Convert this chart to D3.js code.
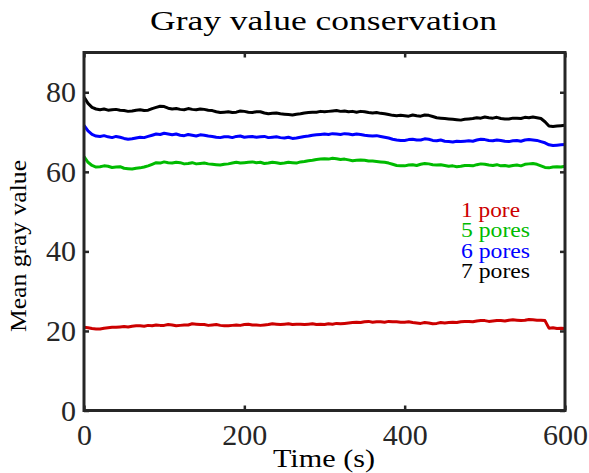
<!DOCTYPE html>
<html>
<head>
<meta charset="utf-8">
<script src="https://cdn.jsdelivr.net/npm/d3@7"></script>
<style>
  body { margin: 0; background: #fff; }
  svg { display: block; }
</style>
</head>
<body>
<svg id="chart" width="589" height="473"></svg>
<script>
// sampling grid (s): every 5 s from 0 to 600, shared by every series
const times = d3.range(0, 601, 5)

// mean gray value, one row per 100 s
const pores1 = [
  20.9, 20.8, 20.6, 20.5, 20.5, 20.7, 20.8, 20.9, 20.9, 21.0, 21.1, 21.0, 21.2, 21.3, 21.3, 21.2, 21.4, 21.3, 21.5, 21.4,
  21.4, 21.6, 21.5, 21.3, 21.4, 21.5, 21.5, 21.8, 21.7, 21.6, 21.6, 21.4, 21.5, 21.6, 21.4, 21.3, 21.3, 21.4, 21.5, 21.4,
  21.6, 21.7, 21.5, 21.5, 21.4, 21.5, 21.6, 21.8, 21.7, 21.6, 21.7, 21.8, 21.6, 21.7, 21.7, 21.6, 21.7, 21.8, 21.6, 21.7,
  21.6, 21.8, 21.7, 21.9, 21.8, 21.9, 22.0, 22.1, 22.2, 22.1, 22.3, 22.4, 22.2, 22.3, 22.3, 22.2, 22.4, 22.3, 22.3, 22.2,
  22.2, 22.3, 22.1, 22.0, 21.9, 22.1, 22.0, 21.8, 21.9, 22.1, 22.0, 22.1, 22.2, 22.1, 22.3, 22.4, 22.4, 22.3, 22.5, 22.6,
  22.6, 22.4, 22.5, 22.6, 22.6, 22.5, 22.7, 22.8, 22.7, 22.6, 22.7, 22.9, 22.8, 22.7, 22.7, 22.6, 20.7, 20.8, 20.6, 20.7,
  20.6]

const pores5 = [
  63.8, 62.4, 61.6, 61.2, 61.3, 61.5, 61.4, 61.1, 61.2, 61.3, 60.9, 60.8, 60.7, 60.9, 61.0, 61.2, 61.5, 61.9, 62.3, 62.2,
  62.5, 62.3, 62.2, 62.4, 62.3, 62.0, 62.1, 62.3, 62.0, 62.1, 62.2, 62.0, 61.9, 61.8, 61.7, 61.9, 62.0, 62.2, 62.4, 62.2,
  62.3, 62.4, 62.5, 62.3, 62.4, 62.1, 62.2, 62.4, 62.3, 62.1, 62.2, 62.4, 62.3, 62.2, 62.5, 62.6, 62.8, 62.9, 63.1, 63.2,
  63.3, 63.2, 63.4, 63.3, 63.1, 63.2, 63.0, 62.8, 62.9, 63.0, 62.9, 62.7, 62.7, 62.6, 62.5, 62.4, 62.2, 61.9, 61.6, 61.5,
  61.5, 61.7, 61.8, 61.6, 61.9, 62.1, 62.0, 61.8, 61.7, 61.8, 61.6, 61.4, 61.5, 61.3, 61.4, 61.6, 61.6, 61.5, 61.8, 62.0,
  61.9, 61.7, 61.6, 61.8, 61.5, 61.6, 61.4, 61.6, 61.7, 61.5, 61.9, 62.0, 62.1, 61.9, 61.5, 61.1, 61.0, 61.2, 61.3, 61.2,
  61.4]

const pores6 = [
  71.7, 70.3, 69.4, 69.0, 68.9, 69.1, 68.8, 68.6, 68.9, 68.7, 68.4, 68.2, 68.3, 68.5, 68.7, 68.6, 68.9, 69.2, 69.5, 69.4,
  69.7, 69.5, 69.3, 69.5, 69.2, 69.1, 69.4, 69.2, 69.0, 69.3, 69.2, 69.0, 68.9, 68.7, 68.6, 68.8, 68.8, 68.6, 68.9, 69.0,
  68.7, 68.8, 68.9, 68.7, 68.8, 68.9, 68.6, 68.7, 68.8, 68.6, 68.5, 68.7, 68.4, 68.5, 68.7, 68.9, 69.0, 69.2, 69.3, 69.4,
  69.5, 69.4, 69.6, 69.5, 69.4, 69.6, 69.5, 69.3, 69.5, 69.4, 69.2, 69.1, 69.0, 69.1, 68.9, 68.7, 68.5, 68.2, 68.0, 67.9,
  67.9, 68.1, 68.2, 68.0, 68.0, 68.3, 68.2, 67.9, 67.8, 68.0, 67.7, 67.6, 67.5, 67.7, 67.6, 67.7, 67.8, 67.7, 68.0, 68.2,
  68.1, 67.9, 67.8, 68.0, 67.9, 67.7, 67.6, 67.8, 67.9, 67.7, 68.0, 68.1, 68.0, 67.9, 67.6, 67.3, 66.8, 66.6, 66.7, 66.8,
  66.9]

const pores7 = [
  78.8, 77.2, 76.2, 75.8, 75.6, 75.8, 75.5, 75.6, 75.7, 75.5, 75.4, 75.2, 75.3, 75.5, 75.6, 75.4, 75.5, 75.9, 76.2, 76.5,
  76.4, 76.0, 75.8, 75.9, 75.7, 75.6, 75.9, 75.7, 75.6, 75.8, 75.7, 75.5, 75.4, 75.1, 74.9, 75.0, 75.1, 74.9, 75.0, 75.3,
  75.2, 75.0, 74.9, 75.1, 75.1, 74.8, 74.6, 74.7, 74.8, 74.6, 74.5, 74.4, 74.3, 74.5, 74.6, 74.8, 74.9, 75.0, 75.0, 75.2,
  75.1, 75.2, 75.3, 75.4, 75.2, 75.3, 75.1, 75.2, 75.0, 75.2, 75.1, 74.9, 74.8, 74.9, 74.7, 74.6, 74.4, 74.2, 74.1, 74.2,
  74.1, 74.0, 74.3, 74.1, 74.0, 74.3, 74.2, 73.9, 73.6, 73.5, 73.4, 73.3, 73.2, 73.1, 73.0, 73.2, 73.3, 73.4, 73.6, 73.5,
  73.8, 73.6, 73.5, 73.7, 73.4, 73.3, 73.3, 73.5, 73.5, 73.4, 73.7, 73.6, 73.8, 73.6, 73.4, 72.6, 71.5, 71.4, 71.5, 71.6,
  71.7]

const seriesNames = ["1 pore", "5 pores", "6 pores", "7 pores"]
const seriesColors = ["#cc0000", "#00bb00", "#0000ff", "#000000"]
const seriesValues = [pores1, pores5, pores6, pores7]

const xTicks = [0, 200, 400, 600]
const yTicks = [0, 20, 40, 60, 80]

const svg = d3.select("#chart")
const plotLeft = 84, plotRight = 565, plotTop = 52.5, plotBottom = 410.5
const font = "Liberation Serif"
const axisColor = "#262626"

let x = d3.scaleLinear().domain([0, 600]).range([plotLeft, plotRight])
let y = d3.scaleLinear().domain([0, 90]).range([plotBottom, plotTop])

// lines first, box on top
let line = d3.line()
    .x((d, i) => x(times[i]))
    .y(d => y(d))

svg.append("g")
    .selectAll("path")
    .data(seriesValues)
    .join("path")
    .attr("d", d => line(d))
    .attr("fill", "none")
    .attr("stroke", (d, i) => seriesColors[i])
    .attr("stroke-width", 3)
    .attr("stroke-linejoin", "round")

function styleAxis(g) {
    g.attr("font-family", font).attr("font-size", 30)
    g.select(".domain").remove()
    g.selectAll(".tick line").attr("stroke", axisColor).attr("stroke-width", 2.5)
    g.selectAll(".tick text").attr("fill", "#262626")
}

svg.append("g")
    .attr("transform", `translate(0,${plotBottom})`)
    .call(d3.axisBottom(x).tickValues(xTicks).tickSizeInner(-5).tickSizeOuter(0).tickPadding(13))
    .call(styleAxis)

svg.append("g")
    .attr("transform", `translate(0,${plotTop})`)
    .call(d3.axisTop(x).tickValues(xTicks).tickSizeInner(-5).tickSizeOuter(0).tickFormat(""))
    .call(styleAxis)

svg.append("g")
    .attr("transform", `translate(${plotLeft},0)`)
    .call(d3.axisLeft(y).tickValues(yTicks).tickSizeInner(-5).tickSizeOuter(0).tickPadding(8))
    .call(styleAxis)

svg.append("g")
    .attr("transform", `translate(${plotRight},0)`)
    .call(d3.axisRight(y).tickValues(yTicks).tickSizeInner(-5).tickSizeOuter(0).tickFormat(""))
    .call(styleAxis)

svg.append("rect")
    .attr("x", plotLeft)
    .attr("y", plotTop)
    .attr("width", plotRight - plotLeft)
    .attr("height", plotBottom - plotTop)
    .attr("fill", "none")
    .attr("stroke", axisColor)
    .attr("stroke-width", 3)

// title and axis labels
svg.append("text")
    .text("Gray value conservation")
    .attr("x", 150)
    .attr("y", 30)
    .attr("textLength", 347)
    .attr("lengthAdjust", "spacingAndGlyphs")
    .attr("font-family", font)
    .attr("font-size", 27)
    .attr("fill", "#000")

svg.append("text")
    .text("Time (s)")
    .attr("x", 273)
    .attr("y", 467)
    .attr("textLength", 102)
    .attr("lengthAdjust", "spacingAndGlyphs")
    .attr("font-family", font)
    .attr("font-size", 25)
    .attr("fill", "#000")

svg.append("text")
    .text("Mean gray value")
    .attr("transform", "translate(26,246) rotate(-90)")
    .attr("text-anchor", "middle")
    .attr("textLength", 172)
    .attr("lengthAdjust", "spacingAndGlyphs")
    .attr("font-family", font)
    .attr("font-size", 24)
    .attr("fill", "#000")

// legend (text only, coloured like the lines)
const legendWidths = [59, 69, 69, 69]
svg.append("g")
    .selectAll("text")
    .data(seriesNames)
    .join("text")
    .text(d => d)
    .attr("x", 461)
    .attr("y", (d, i) => 217 + i * 20.4)
    .attr("textLength", (d, i) => legendWidths[i])
    .attr("lengthAdjust", "spacingAndGlyphs")
    .attr("fill", (d, i) => seriesColors[i])
    .attr("font-family", font)
    .attr("font-size", 20)
</script>
</body>
</html>
